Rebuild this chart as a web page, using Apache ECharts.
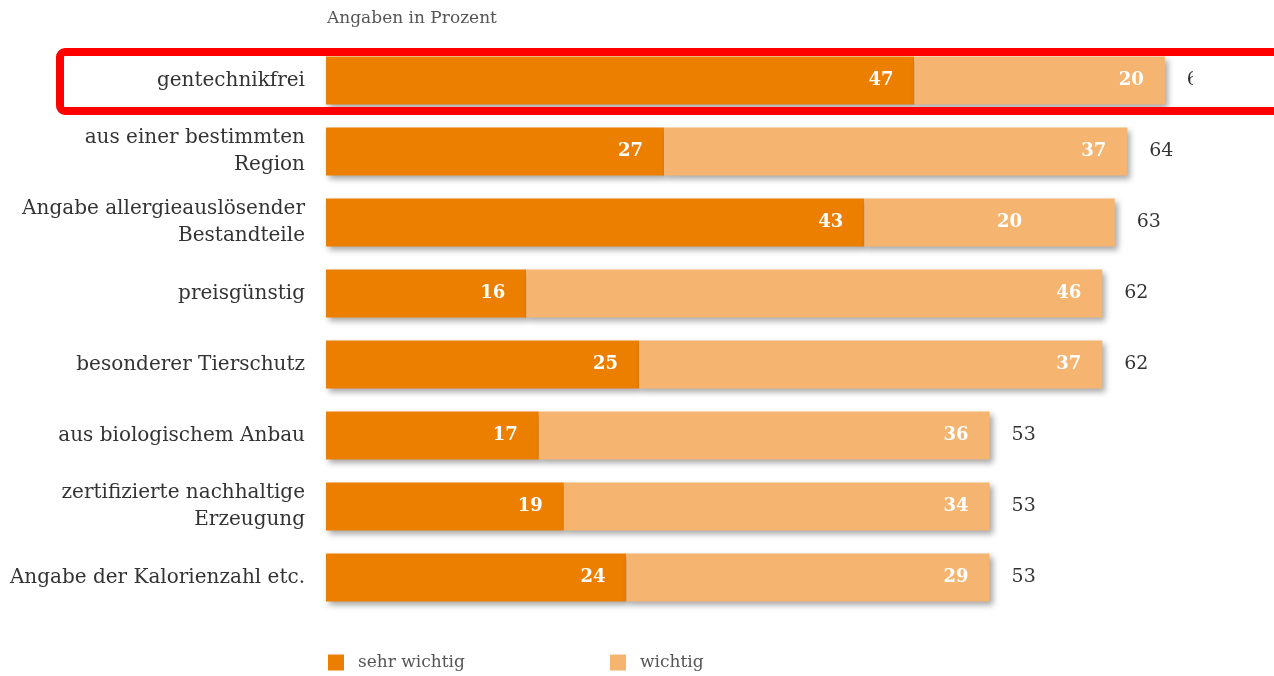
<!DOCTYPE html>
<html><head><meta charset="utf-8">
<script src="https://cdn.jsdelivr.net/npm/echarts@6/dist/echarts.min.js"></script>
<style>html,body{margin:0;padding:0;background:#fff}#c{width:1274px;height:676px}</style>
</head><body><div id="c"></div>
<script>
const categories = ["gentechnikfrei","aus einer bestimmten\nRegion","Angabe allergieauslösender\nBestandteile","preisgünstig","besonderer Tierschutz","aus biologischem Anbau","zertifizierte nachhaltige\nErzeugung","Angabe der Kalorienzahl etc."];
const sehrWichtig = [47,27,43,16,25,17,19,24];
const wichtig = [20,37,20,46,37,36,34,29];
const totals = [67,64,63,62,62,53,53,53];
const seriesNames = ["sehr wichtig","wichtig"];

const FONT = "DejaVu Serif";
const shadow = {shadowColor:'rgba(0,0,0,0.35)', shadowBlur:6, shadowOffsetX:3, shadowOffsetY:3};
const inLabel = {show:true, position:'insideRight', distance:21, color:'#fff', fontFamily:FONT, fontWeight:'bold', fontSize:18};

const wichtigData = wichtig.map((v,i)=> i===2 ? {value:v, label:{position:'inside', offset:[20,0]}} : v);

const legendText = {fontFamily:FONT, fontSize:17, color:'#555', padding:[0,0,0,9]};

const chart = echarts.init(document.getElementById('c'), null, {renderer:'canvas'});
chart.setOption({
  animation:false,
  title:{text:'Angaben in Prozent', left:322, top:5, textStyle:{fontFamily:FONT, fontSize:17, fontWeight:'normal', color:'#555'}},
  legend:[
    {data:[seriesNames[0]], left:328, top:654, padding:0, itemWidth:16, itemHeight:16, icon:'rect', textStyle:legendText},
    {data:[seriesNames[1]], left:610, top:654, padding:0, itemWidth:16, itemHeight:16, icon:'rect', textStyle:legendText}
  ],
  grid:{left:326, right:9, top:45, bottom:63, containLabel:false},
  xAxis:{type:'value', min:0, max:75, show:false},
  yAxis:{type:'category', inverse:true, data:categories,
    axisLine:{show:false}, axisTick:{show:false},
    axisLabel:{margin:21, fontFamily:FONT, fontSize:20, color:'#333', lineHeight:27, align:'right'}},
  series:[
    {name:seriesNames[0], type:'bar', stack:'a', barWidth:48, data:sehrWichtig, itemStyle:Object.assign({color:'#ED7F00'},shadow), label:inLabel},
    {name:seriesNames[1], type:'bar', stack:'a', barWidth:48, data:wichtigData, itemStyle:Object.assign({color:'#F5B571'},shadow), label:inLabel},
    {name:'total', type:'bar', barWidth:48, barGap:'-100%', z:1, data:totals, itemStyle:{color:'rgba(0,0,0,0)'}, silent:true,
      label:{show:true, position:'right', distance:22, color:'#333', fontFamily:FONT, fontSize:19}}
  ],
  graphic:[
    {type:'rect', z:100, shape:{x:1193, y:56, width:90, height:52}, style:{fill:'#fff'}},
    {type:'rect', z:101, shape:{x:60, y:52, width:1240, height:59, r:5}, style:{fill:'none', stroke:'#ff0000', lineWidth:8}}
  ]
});
</script></body></html>
